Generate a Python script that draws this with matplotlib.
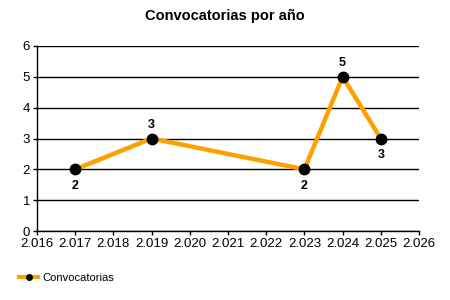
import matplotlib
matplotlib.use("Agg")
import matplotlib.pyplot as plt
from matplotlib.lines import Line2D

# datos
anios = [2017, 2019, 2023, 2024, 2025]
convocatorias = [2, 3, 2, 5, 3]
posicion_etiqueta = ['abajo', 'arriba', 'abajo', 'arriba', 'abajo']
ticks_x = list(range(2016, 2027))
etiquetas_x = ['2.%03d' % (t - 2000) for t in ticks_x]
ticks_y = list(range(0, 7))

plt.rcParams['font.family'] = ['Liberation Sans', 'DejaVu Sans']

fig = plt.figure(figsize=(4.5, 3), dpi=100)
ax = fig.add_axes([37/450, 1 - 231/300, (419-37)/450, (231-46)/300])

naranja = '#FFA000'
ax.plot(anios, convocatorias, color=naranja, linewidth=3.2,
        marker='o', markersize=7.5, markerfacecolor='black',
        markeredgecolor='black', label='Convocatorias', zorder=3,
        solid_joinstyle='miter', clip_on=False)

for x, y, pos in zip(anios, convocatorias, posicion_etiqueta):
    dy = 10 if pos == 'arriba' else -12
    ax.annotate(str(y), (x, y), xytext=(0, dy), textcoords='offset points',
                ha='center', va='center', fontsize=9, fontweight='bold')

ax.set_xlim(2016, 2026)
ax.set_ylim(0, 6)
ax.set_xticks(ticks_x)
ax.set_xticklabels(etiquetas_x)
ax.set_yticks(ticks_y)
ax.tick_params(labelsize=9.5, length=3, width=1, color='black', pad=2)
ax.yaxis.grid(True, color='black', linewidth=1)
ax.set_axisbelow(True)
for s in ['top', 'right']:
    ax.spines[s].set_visible(False)
for s in ['left', 'bottom']:
    ax.spines[s].set_linewidth(1)

fig.suptitle('Convocatorias por año', x=0.5, y=0.97, fontsize=10.5,
             fontweight='bold')

# leyenda abajo a la izquierda
h = Line2D([], [], color=naranja, linewidth=3, marker='o', markersize=4,
           markerfacecolor='black', markeredgecolor='black')
fig.legend([h], ['Convocatorias'], loc='center left',
           bbox_to_anchor=(0.03, 1 - 278/300), frameon=False, fontsize=8,
           handlelength=1.7, handletextpad=0.4, borderpad=0)

fig.savefig('out.png', dpi=100)
